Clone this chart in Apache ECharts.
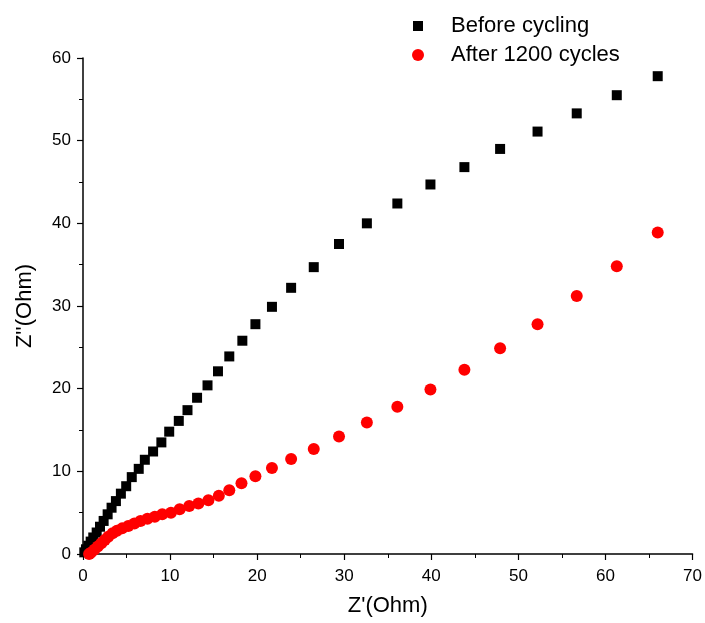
<!DOCTYPE html>
<html>
<head>
<meta charset="utf-8">
<script src="https://cdn.jsdelivr.net/npm/echarts@6/dist/echarts.min.js"></script>
<style>
    html, body { margin: 0; padding: 0; background: #fff; }
    #chart { width: 705px; height: 623px; }
</style>
</head>
<body>
<div id="chart"></div>
<script>
// Z' values (shared by both series)
const zReal = [66.0, 61.3, 56.7, 52.2, 47.9, 43.8, 39.9, 36.1, 32.6, 29.4, 26.5, 23.9, 21.7, 19.8,
    18.3, 16.8, 15.5, 14.3, 13.1, 12.0, 11.0, 9.9, 9.0, 8.05, 7.1, 6.4, 5.6, 4.96, 4.35, 3.78, 3.28,
    2.83, 2.37, 1.95, 1.57, 1.18, 0.88, 0.61, 0.34, 0.15];
// Z'' before cycling
const zImagBefore = [57.8, 55.5, 53.3, 51.1, 49.0, 46.8, 44.7, 42.4, 40.0, 37.5, 34.7, 32.2, 29.9, 27.8,
    25.8, 23.9, 22.1, 20.4, 18.9, 17.4, 16.1, 14.8, 13.5, 12.4, 11.4, 10.3, 9.3, 8.2, 7.3, 6.4, 5.6,
    4.8, 4.0, 3.3, 2.6, 2.0, 1.5, 1.0, 0.57, 0.2];
// after 1200 cycles
const zRealAfter = [66.0, 61.3, 56.7, 52.2, 47.9, 43.8, 39.9, 36.1, 32.6, 29.4, 26.5, 23.9, 21.7, 19.8,
    18.2, 16.8, 15.6, 14.4, 13.25, 12.2, 11.1, 10.1, 9.1, 8.25, 7.4, 6.6, 5.9, 5.2, 4.5, 3.9, 3.4,
    2.9, 2.5, 2.1, 1.7, 1.3, 0.9, 0.7];
const zImagAfter = [38.9, 34.8, 31.2, 27.8, 24.9, 22.3, 19.9, 17.8, 15.9, 14.2, 12.7, 11.5, 10.4, 9.4,
    8.55, 7.7, 7.05, 6.5, 6.1, 5.8, 5.4, 5.0, 4.8, 4.5, 4.27, 4.0, 3.7, 3.4, 3.1, 2.8, 2.5,
    2.1, 1.7, 1.3, 0.9, 0.5, 0.15, 0.0];

const xTicks = [0, 70, 10];   // min, max, interval
const yTicks = [0, 60, 10];

const font = 'Arial, "Liberation Sans", sans-serif';

const beforeData = zReal.map((x, i) => [x, zImagBefore[i]]);
const afterData = zRealAfter.map((x, i) => [x, zImagAfter[i]]);

const axisCommon = {
    type: 'value',
    nameLocation: 'middle',
    nameTextStyle: { fontFamily: font, fontSize: 22, color: '#000' },
    axisLine: { show: true, onZero: false, lineStyle: { color: '#000', width: 1.5 } },
    axisTick: { show: true, inside: false, length: 6, lineStyle: { color: '#000', width: 1.2 } },
    minorTick: { show: true, splitNumber: 2, length: 4, lineStyle: { color: '#000', width: 1 } },
    splitLine: { show: false },
    axisLabel: { fontFamily: font, fontSize: 17, color: '#000' }
};

const option = {
    backgroundColor: '#fff',
    animation: false,
    grid: { left: 83, right: 11, top: 58, bottom: 69 },
    legend: [
        {
            data: [{ name: 'Before cycling', icon: 'rect' }],
            left: 408, top: 10,
            itemWidth: 10, itemHeight: 10,
            textStyle: { fontFamily: font, fontSize: 22, color: '#000', padding: [0, 0, 0, 23] }
        },
        {
            data: [{ name: 'After 1200 cycles', icon: 'circle' }],
            left: 407, top: 39,
            itemWidth: 12, itemHeight: 12,
            textStyle: { fontFamily: font, fontSize: 22, color: '#000', padding: [0, 0, 0, 22] }
        }
    ],
    xAxis: Object.assign({}, axisCommon, {
        min: xTicks[0], max: xTicks[1], interval: xTicks[2],
        name: "Z'(Ohm)", nameGap: 41,
        axisLabel: Object.assign({}, axisCommon.axisLabel, { margin: 14 })
    }),
    yAxis: Object.assign({}, axisCommon, {
        min: yTicks[0], max: yTicks[1], interval: yTicks[2],
        name: "Z''(Ohm)", nameGap: 47,
        axisLabel: Object.assign({}, axisCommon.axisLabel, { margin: 12 })
    }),
    series: [
        {
            name: 'Before cycling',
            type: 'scatter',
            symbol: 'rect',
            symbolSize: 10,
            itemStyle: { color: '#000', opacity: 1 },
            data: beforeData
        },
        {
            name: 'After 1200 cycles',
            type: 'scatter',
            symbol: 'circle',
            symbolSize: 12,
            itemStyle: { color: '#ff0000', opacity: 1 },
            data: afterData
        }
    ]
};

let myChart = echarts.init(document.getElementById('chart'));
myChart.setOption(option);
</script>
</body>
</html>
